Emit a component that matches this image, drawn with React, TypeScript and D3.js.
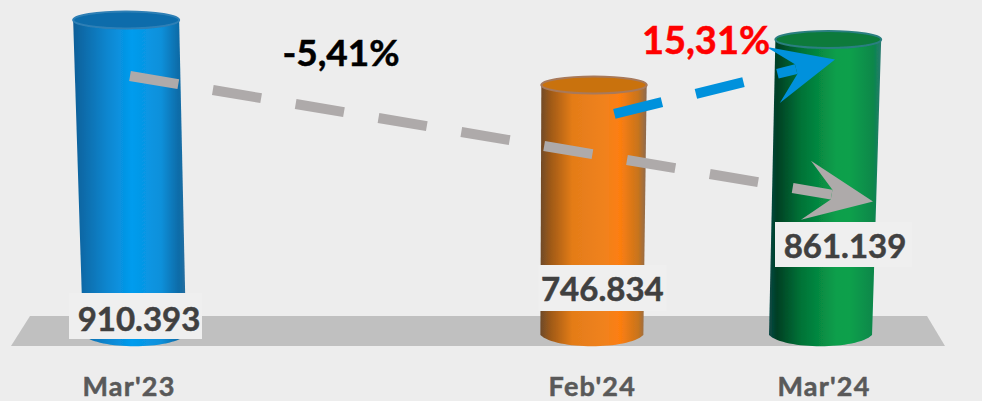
import React from "react";
import * as d3 from "d3";

const categories = ["Mar'23", "", "Feb'24", "Mar'24"];
const values = [910393, null, 746834, 861139];
const valueLabels = ["910.393", "", "746.834", "861.139"];
const gradients = [
  [[0, "#0f5f98"], [0.1, "#0a6cab"], [0.3, "#0a86cf"], [0.52, "#049cee"], [0.78, "#0a90da"], [0.93, "#0b6ca9"], [1, "#2a6f9f"]],
  [],
  [[0, "#6e4a2a"], [0.1, "#a05a18"], [0.3, "#e47c18"], [0.6, "#f0821e"], [0.75, "#fd7e10"], [0.92, "#c8741c"], [1, "#8a6a52"]],
  [[0, "#0a4a48"], [0.07, "#003f24"], [0.28, "#027236"], [0.6, "#0a9f4c"], [0.72, "#07a04c"], [0.93, "#07874a"], [1, "#2a7a70"]],
];
const capFill = ["#0a6cab", "", "#c9720f", "#087a3a"];
const capRim = ["#2f7fb5", "", "#a8795a", "#2b7f80"];
const textBoxes = [
  { dx: -61, w: 133, y: 293, h: 46 },
  null,
  { dx: -55, w: 128, y: 265, h: 46 },
  { dx: -50, w: 137, y: 222, h: 45 },
];

const W = 982;
const H = 401;
const x = d3.scalePoint<string>().domain(categories.map((c, i) => c || `_${i}`)).range([130, 825]);
const y = d3.scaleLinear().domain([117000, 910393]).range([335, 20]);
const VP = 480;
const persp = d3.scaleLinear().domain([335, 20]).range([0.987, 1.011]);
const halfW = d3.scaleLinear().domain([335, 20]).range([51.5, 53]);
const key = (i: number) => categories[i] || `_${i}`;
const px = (cx: number, yy: number) => VP + (cx - VP) * persp(yy);

function cylinderPath(cx: number, top: number, base: number) {
  const p = d3.path();
  const tx = px(cx, top), bx = px(cx, base), tw = halfW(top), bw = halfW(base);
  p.moveTo(tx - tw, top);
  p.lineTo(bx - bw, base);
  p.bezierCurveTo(bx - bw * 0.7, base + 15, bx + bw * 0.7, base + 15, bx + bw, base);
  p.lineTo(tx + tw, top);
  p.closePath();
  return p.toString();
}

function Arrow({ x1, y1, x2, y2, color, id, headBack, headWide, notch }: any) {
  const a = Math.atan2(y2 - y1, x2 - x1);
  const deg = (a * 180) / Math.PI;
  const len = Math.hypot(x2 - x1, y2 - y1);
  const head = `M0,0 L${-headBack},${-headWide} L${-notch},-5 L${-notch},5 L${-headBack},${headWide} Z`;
  return (
    <g id={id} transform={`translate(${x1},${y1}) rotate(${deg})`}>
      <line x1={0} y1={0} x2={len - notch} y2={0} stroke={color} strokeWidth={10} strokeDasharray="49 35" />
      <path d={head} transform={`translate(${len},0)`} fill={color} />
    </g>
  );
}

export default function App() {
  const base = y(117000);
  const heavy = { strokeWidth: 0.5, paintOrder: "stroke" } as const;
  return (
    <svg
      width={W}
      height={H}
      viewBox={`0 0 ${W} ${H}`}
      style={{ position: "fixed", left: 0, top: 0, background: "#ededed", display: "block" }}
      fontFamily="Lato, 'Open Sans', sans-serif"
      fontWeight={700}
    >
      <defs>
        {gradients.map((g, i) =>
          g.length ? (
            <linearGradient key={i} id={`cyl${i}`} x1="0" x2="1" y1="0" y2="0">
              {g.map(([o, c]) => (
                <stop key={String(o)} offset={o as number} stopColor={c as string} />
              ))}
            </linearGradient>
          ) : null
        )}
        <filter id="soft" x="-5%" y="-5%" width="110%" height="110%">
          <feGaussianBlur stdDeviation="0.6" />
        </filter>
      </defs>
      <polygon points={`11,346 30,316 927,316 945,346`} fill="#c0c0c0" />
      {values.map((v, i) => {
        if (v == null) return null;
        const cx = x(key(i))!;
        const top = y(v);
        return (
          <g key={i} filter="url(#soft)">
            <path d={cylinderPath(cx, top, base)} fill={`url(#cyl${i})`} />
            <ellipse cx={px(cx, top)} cy={top} rx={halfW(top)} ry={8.5} fill={capFill[i]} stroke={capRim[i]} strokeWidth={2} />
          </g>
        );
      })}
      <Arrow
        id="drop"
        x1={x(key(0))!}
        y1={y(910393) + 56}
        x2={x(key(3))! + 48}
        y2={y(861139) + 162}
        color="#aeaaaa"
        headBack={68}
        headWide={30}
        notch={42}
      />
      <Arrow
        id="rise"
        x1={x(key(2))! + 21}
        y1={y(746834) + 29}
        x2={x(key(3))! + 10}
        y2={y(861139) + 20}
        color="#0091dc"
        headBack={64}
        headWide={29}
        notch={40}
      />
      {textBoxes.map((b, i) => {
        if (!b) return null;
        const cx = x(key(i))!;
        return <rect key={i} x={cx + b.dx} y={b.y} width={b.w} height={b.h} fill="#efefef" />;
      })}
      <text x={x(key(0))! + 9} y={331} textAnchor="middle" fontSize={33} fill="#404040" stroke="#404040" {...heavy}>{valueLabels[0]}</text>
      <text x={x(key(2))! + 9} y={301} textAnchor="middle" fontSize={33} fill="#404040" stroke="#404040" {...heavy}>{valueLabels[2]}</text>
      <text x={x(key(3))! + 20} y={258} textAnchor="middle" fontSize={33} fill="#404040" stroke="#404040" {...heavy}>{valueLabels[3]}</text>
      {categories.map((c, i) =>
        c ? (
          <text key={i} x={x(key(i))! - 1} y={395.5} textAnchor="middle" fontSize={27} letterSpacing={1.2} fill="#595959" stroke="#595959" {...heavy}>{c}</text>
        ) : null
      )}
      <text x={341} y={66} textAnchor="middle" fontSize={37} fill="#000000" stroke="#000000" {...heavy}>-5,41%</text>
      <text x={706} y={54} textAnchor="middle" fontSize={38} fill="#ff0000" stroke="#ff0000" {...heavy}>15,31%</text>
    </svg>
  );
}
